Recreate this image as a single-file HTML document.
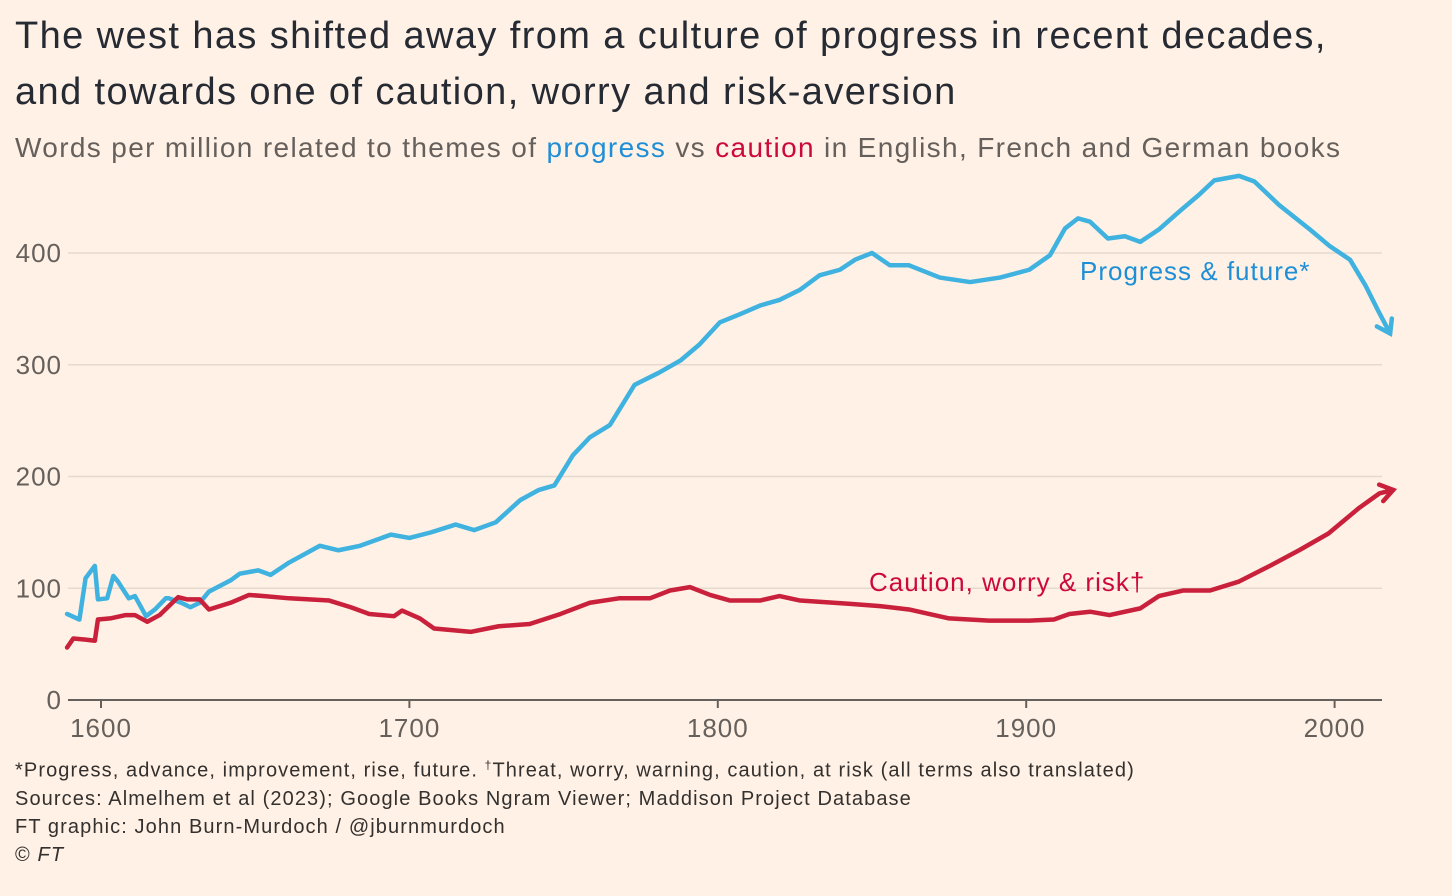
<!DOCTYPE html>
<html><head><meta charset="utf-8">
<style>
body{margin:0;background:#fff1e5;width:1452px;height:896px;overflow:hidden;font-family:"Liberation Sans",sans-serif;color:#33302e}
.t{position:absolute;left:15px;white-space:nowrap}
</style></head><body>
<div class="t" style="top:8px;font-size:38px;line-height:56px;letter-spacing:1.4px;color:#262a33">The west has shifted away from a culture of progress in recent decades,<br>and towards one of caution, worry and risk-aversion</div>
<div class="t" style="top:132px;font-size:28px;letter-spacing:1.35px;color:#66605c">Words per million related to themes of <b style="color:#1e8fd6;font-weight:normal">progress</b> vs <b style="color:#cc0a3a;font-weight:normal">caution</b> in English, French and German books</div>
<svg id="chart" width="1452" height="896" style="position:absolute;left:0;top:0"></svg>
<div class="t" style="top:751px;font-size:20px;line-height:28px;letter-spacing:1.1px;color:#33302e">*Progress, advance, improvement, rise, future. <sup style="font-size:12px">†</sup>Threat, worry, warning, caution, at risk (all terms also translated)<br>Sources: Almelhem et al (2023); Google Books Ngram Viewer; Maddison Project Database<br>FT graphic: John Burn-Murdoch / @jburnmurdoch<br>© <i>FT</i></div>
<script>
const yTicks=[0,100,200,300,400];
const xTicks=[1600,1700,1800,1900,2000];
const progYears=[1589,1593,1595,1598,1599,1602,1604,1605.5,1609,1611,1614.6,1617.5,1621,1622,1626,1629,1632,1635,1642,1645,1651,1655,1661,1671,1677,1684,1694,1700,1707,1715,1721,1728,1736,1742,1747,1753,1758.5,1765,1773,1781,1788,1794,1800.7,1807,1813.7,1820,1826.6,1833,1839.6,1844.5,1850,1855.8,1862,1872,1881.8,1891.5,1901,1907.7,1912.6,1916.8,1920.7,1926.5,1932,1937,1943,1950,1956,1961,1969,1974,1982,1992,1998.5,2005,2010,2014,2018];
const progValues=[77,72,109,120,90,91,111,106,91,93,75,81,91,91,87,83,87,97,107,113,116,112,123,138,134,138,148,145,150,157,152,159,179,188,192,219,235,246,282,293,304,318,338,345,353,358,367,380,385,394,400,389,389,378,374,378,385,398,422,431,428,413,415,410,421,438,452,465,469,464,443,421,406,394,371,349,328];
const cautYears=[1589,1591,1595,1598,1599,1603,1608,1611,1615,1619,1622,1625,1628,1632,1635,1642,1648,1653,1661,1674,1681,1687,1695,1697.6,1703.4,1708,1720,1729,1739,1749,1758.5,1768,1778,1784.5,1791,1797.5,1804,1813.7,1820,1826.7,1843,1852.6,1862,1875,1888,1901,1909,1914,1920.7,1927,1937,1943,1951,1959.6,1969,1979,1988.5,1998,2008,2014.6,2019];
const cautValues=[47,55,54,53,72,73,76,76,70,76,84,92,90,90,81,87,94,93,91,89,83,77,75,80,73,64,61,66,68,77,87,91,91,98,101,94,89,89,93,89,86,84,81,73,71,71,72,77,79,76,82,93,98,98,106,120,134,149,172,185,188];
const X=y=>101+(y-1600)*3.084;
const Y=v=>700-v*1.1175;
const svg=document.getElementById('chart');
const NS='http://www.w3.org/2000/svg';
function mk(tag,attrs){const e=document.createElementNS(NS,tag);for(const k in attrs)e.setAttribute(k,attrs[k]);svg.appendChild(e);return e;}
yTicks.forEach(v=>{
  if(v>0){const g=mk('line',{x1:68,x2:1382,y1:Y(v),y2:Y(v),stroke:'#e6d9ce','stroke-width':1.5});
  
  }
  const t=mk('text',{x:62,y:Y(v)+9,'text-anchor':'end','font-size':26,'letter-spacing':1,fill:'#66605c','font-family':'Liberation Sans, sans-serif'});
  t.textContent=v;
  
  
});
const ax=mk('line',{x1:68,x2:1382,y1:700,y2:700,stroke:'#66605c','stroke-width':2});


xTicks.forEach(yr=>{
  const tk=mk('line',{x1:X(yr),x2:X(yr),y1:700,y2:708,stroke:'#66605c','stroke-width':2});
  
  
  const t=mk('text',{x:X(yr),y:737,'text-anchor':'middle','font-size':26,'letter-spacing':1,fill:'#66605c','font-family':'Liberation Sans, sans-serif'});
  t.textContent=yr;
  
  
});
function series(years,vals,color,name){
  const pts=years.map((y,i)=>X(y)+','+Y(vals[i])).join(' ');
  const p=mk('polyline',{points:pts,fill:'none',stroke:color,'stroke-width':4.5,'stroke-linejoin':'round','stroke-linecap':'round'});
  
  
  const n=years.length;
  const x1=X(years[n-1]),y1=Y(vals[n-1]),x0=X(years[n-2]),y0=Y(vals[n-2]);
  const a=Math.atan2(y1-y0,x1-x0),L=15;
  const d=`M${x1-L*Math.cos(a-0.6)},${y1-L*Math.sin(a-0.6)} L${x1},${y1} L${x1-L*Math.cos(a+0.6)},${y1-L*Math.sin(a+0.6)}`;
  const ar=mk('path',{d:d,fill:'none',stroke:color,'stroke-width':4.5,'stroke-linejoin':'miter','stroke-linecap':'round'});
  
  
}
series(progYears,progValues,'#3fb2e0','progress');
series(cautYears,cautValues,'#c9213c','caution');
const l1=mk('text',{x:1080,y:280,'font-size':26,'letter-spacing':1,fill:'#1e8fd6','font-family':'Liberation Sans, sans-serif'});
l1.textContent='Progress & future*';


const l2=mk('text',{x:869,y:591,'font-size':26,'letter-spacing':1,fill:'#cc0a3a','font-family':'Liberation Sans, sans-serif'});
l2.textContent='Caution, worry & risk†';


</script>
</body></html>
